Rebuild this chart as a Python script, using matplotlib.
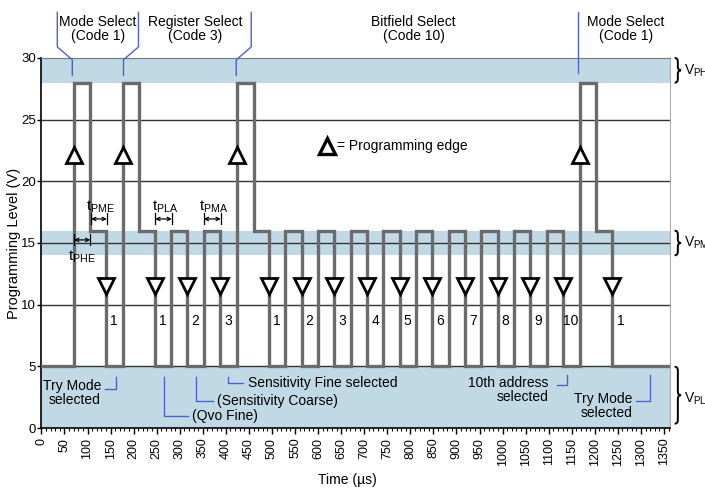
import numpy as np
import matplotlib.pyplot as plt
from matplotlib.path import Path
from matplotlib.patches import PathPatch

plt.rcParams['font.family'] = ['Liberation Sans', 'DejaVu Sans']
plt.rcParams['mathtext.default'] = 'regular'

# programming pulse train: time of each transition (us) and level held after it (V)
edge_times = [0, 70, 106, 140, 176, 212, 246, 282, 316, 352, 388, 424, 460,
              494, 529, 564, 600, 635, 671, 706, 741, 777, 812, 847, 883,
              918, 954, 989, 1025, 1060, 1096, 1131, 1167, 1202, 1238]
levels = [5, 28, 16, 5, 28, 16, 5, 16, 5, 16, 5, 28, 16,
          5, 16, 5, 16, 5, 16, 5, 16, 5, 16, 5, 16,
          5, 16, 5, 16, 5, 16, 5, 28, 16, 5]
t_end = 1362

# count labels written in each low pulse (one per falling programming edge)
bit_labels = ['1', '1', '2', '3', '1', '2', '3', '4', '5', '6', '7', '8', '9', '10', '1']

# timing parameters: name, start, stop (us)
timing_names = ['PHE', 'PME', 'PLA', 'PMA']
timing_start = [71, 108, 247, 352]
timing_stop = [106, 142, 283, 389]

# voltage bands
vph = (28, 30)
vpm = (14, 16)
vpl = (0, 5)
band_names = ['V$_{PH}$', 'V$_{PM}$', 'V$_{PL}$']

x_ticks = list(range(0, 1351, 50))
y_ticks = [0, 5, 10, 15, 20, 25, 30]

band_col = '#c0d9e5'
wave_col = '#6b6b6b'
lead_col = '#4a64c8'


def brace(ax, x, y0, y1, w, r):
    ym = (y0 + y1) / 2
    xm = x + w / 2
    verts = [(x, y1), (xm, y1), (xm, y1 - r), (xm, ym + r), (xm, ym), (x + w, ym),
             (xm, ym), (xm, ym - r), (xm, y0 + r), (xm, y0), (x, y0)]
    codes = [Path.MOVETO, Path.CURVE3, Path.CURVE3, Path.LINETO, Path.CURVE3, Path.CURVE3,
             Path.CURVE3, Path.CURVE3, Path.LINETO, Path.CURVE3, Path.CURVE3]
    ax.add_patch(PathPatch(Path(verts, codes), fc='none', ec='black', lw=1.4, clip_on=False))


fig = plt.figure(figsize=(7.05, 4.91), dpi=100)
ax = fig.add_axes([0.0587, 0.1283, 0.8910, 0.7536])

for lo, hi in (vph, vpm, vpl):
    ax.axhspan(lo, hi, color=band_col, lw=0, zorder=0)
for y in y_ticks[1:-1]:
    ax.axhline(y, color='#333333', lw=1.0, zorder=1)

ax.step(edge_times + [t_end], levels + [levels[-1]], where='post',
        color=wave_col, lw=2.4, zorder=3, solid_joinstyle='miter')

# programming edges
down_edges = [t for t, a, b in zip(edge_times[1:], levels[:-1], levels[1:]) if a == 16 and b == 5]
up_edges = [t for t, b in zip(edge_times[1:], levels[1:]) if b == 28]
ax.plot(down_edges, [11.5] * len(down_edges), 'v', ms=11, mfc='white', mec='black', mew=2, zorder=4)
ax.plot(up_edges, [22.1] * len(up_edges), '^', ms=11, mfc='white', mec='black', mew=2, zorder=4)
for t, lab in zip(down_edges, bit_labels):
    ax.text(t + 17.5, 8.7, lab, ha='center', va='center', fontsize=10, zorder=5)

# timing arrows
for name, t0, t1 in zip(timing_names, timing_start, timing_stop):
    if name == 'PHE':
        ya, yt = 15.25, 13.85
    else:
        ya, yt = 16.95, 17.9
    ax.annotate('', xy=(t1, ya), xytext=(t0, ya), zorder=5,
                arrowprops=dict(arrowstyle='<->', lw=0.9, color='black',
                                mutation_scale=6, shrinkA=0, shrinkB=0))
    for t in (t0, t1):
        ax.plot([t, t], [ya - 0.45, ya + 0.45], color='black', lw=0.9, zorder=5)
    ax.text((t0 + t1) / 2 + (3 if name != 'PHE' else 0), yt, 't$_{%s}$' % name,
            ha='center', va='center', fontsize=11, zorder=5)

# legend for the triangle
ax.plot([619], [22.9], '^', ms=12, mfc='white', mec='black', mew=2.4, zorder=4)
ax.text(641, 22.9, '= Programming edge', ha='left', va='center', fontsize=10)

# top annotations
top_kw = dict(ha='center', va='center', fontsize=10, linespacing=0.95, clip_on=False)
ax.text(123, 32.35, 'Mode Select\n(Code 1)', **top_kw)
ax.text(333, 32.35, 'Register Select\n(Code 3)', **top_kw)
ax.text(807, 32.35, 'Bitfield Select\n(Code 10)', **top_kw)
ax.text(1267, 32.35, 'Mode Select\n(Code 1)', **top_kw)
lead_kw = dict(color=lead_col, lw=1.0, clip_on=False, zorder=5)
ax.plot([34.5, 34.5, 67, 67], [33.7, 30.9, 29.85, 28.6], **lead_kw)
ax.plot([210.5, 210.5, 178, 178], [33.7, 30.9, 29.85, 28.6], **lead_kw)
ax.plot([455, 455, 422.5, 422.5], [33.7, 30.9, 29.85, 28.6], **lead_kw)
ax.plot([1164, 1164], [33.7, 28.8], **lead_kw)

# bottom annotations
ax.text(129, 2.8, 'Try Mode\nselected', ha='right', va='center', fontsize=10,
        multialignment='right', linespacing=1.0)
ax.plot([138, 162, 162], [3.2, 3.2, 4.15], **lead_kw)
ax.plot([265, 265, 318], [4.15, 0.97, 0.97], **lead_kw)
ax.text(326, 0.97, '(Qvo Fine)', ha='left', va='center', fontsize=10)
ax.plot([335, 335, 372], [4.15, 2.21, 2.21], **lead_kw)
ax.text(380, 2.21, '(Sensitivity Coarse)', ha='left', va='center', fontsize=10)
ax.plot([404.5, 404.5, 437.5], [4.15, 3.67, 3.67], **lead_kw)
ax.text(449, 3.67, 'Sensitivity Fine selected', ha='left', va='center', fontsize=10)
ax.text(1100, 3.06, '10th address\nselected', ha='right', va='center', fontsize=10,
        multialignment='right', linespacing=1.0)
ax.plot([1119, 1140.5, 1140.5], [3.49, 3.49, 4.3], **lead_kw)
ax.text(1281, 1.78, 'Try Mode\nselected', ha='right', va='center', fontsize=10,
        multialignment='right', linespacing=1.0)
ax.plot([1289, 1320, 1320], [2.21, 2.21, 4.3], **lead_kw)

# braces + band names on the right (names run past the figure edge, as in the source)
for (lo, hi), name, pad in zip((vph, vpm, vpl), band_names, (0, 0, 0.35)):
    brace(ax, 1373, lo + pad, hi - pad * 0.1, 14, 0.3)
    ax.text(1394, (lo + hi) / 2 - (0.15 if hi == 5 else 0), name, ha='left', va='center',
            fontsize=10, clip_on=False)

ax.set_xlim(0, t_end)
ax.set_ylim(0, 30)
ax.set_xticks(x_ticks)
ax.set_xticks(np.arange(0, t_end, 10), minor=True)
ax.set_xticklabels([str(v) for v in x_ticks], rotation=90, fontsize=9)
ax.set_yticks(y_ticks)
ax.set_yticklabels([str(v) for v in y_ticks], fontsize=9.5)
ax.tick_params(axis='x', which='major', length=4, width=1, direction='out', pad=3)
ax.tick_params(axis='x', which='minor', length=2, width=0.8, direction='out')
ax.tick_params(axis='y', length=3, width=1, pad=1)

ax.spines['top'].set_color('#777777')
ax.spines['right'].set_color('#aaaaaa')
ax.spines['left'].set_linewidth(1.2)
ax.spines['bottom'].set_linewidth(1.2)

ax.set_xlabel('Time (\u00b5s)', fontsize=10)
ax.xaxis.set_label_coords(0.487, -0.122)
ax.set_ylabel('Programming Level (V)', fontsize=10.5)
ax.yaxis.set_label_coords(-0.033, 0.5)

fig.savefig('out.png', dpi=100)
